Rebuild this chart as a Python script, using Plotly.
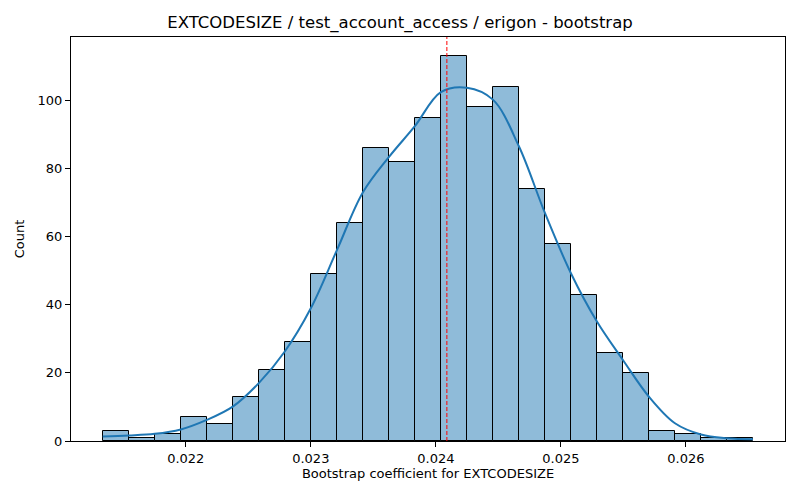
import plotly.graph_objects as go

# histogram bins (left edges derived from start + width) and counts
bin_start = 0.021336
bin_width = 0.000208
counts = [3, 1, 2, 7, 5, 13, 21, 29, 49, 64, 86, 82, 95, 113, 98, 104, 74, 58, 43, 26, 20, 3, 2, 1, 1]

# kde curve at each bin edge
kde_y = [1.3, 1.6, 2.1, 3.4, 6.2, 10.1, 17, 26.3, 39, 56, 73, 83.4, 92.5, 102.5, 103.8,
         100.3, 86.6, 67, 49.3, 35.1, 23.8, 13, 5.2, 1.9, 0.8, 0.5]

point_estimate = 0.024088
x_ticks = [0.022, 0.023, 0.024, 0.025, 0.026]
y_ticks = [0, 20, 40, 60, 80, 100]

title = "EXTCODESIZE / test_account_access / erigon - bootstrap"
xlabel = "Bootstrap coefficient for EXTCODESIZE"

edges = [bin_start + i * bin_width for i in range(len(counts) + 1)]

fig = go.Figure()

fig.add_trace(go.Bar(
    x=edges[:-1], y=counts, width=bin_width, offset=0,
    marker=dict(color="rgba(31,119,180,0.5)", line=dict(color="black", width=1)),
    showlegend=False, hoverinfo="x+y",
))

fig.add_trace(go.Scatter(
    x=edges, y=kde_y, mode="lines",
    line=dict(color="#1f77b4", width=2, shape="spline", smoothing=1),
    showlegend=False,
))

fig.add_vline(x=point_estimate, line=dict(color="red", width=1, dash="4px,2px"))

# page body adds an 8px margin, so the figure is sized 16px smaller
W, H = 784, 484
font = "DejaVu Sans"
fig.update_layout(
    width=W, height=H,
    margin=dict(l=63, r=7, t=29, b=51),
    paper_bgcolor="white", plot_bgcolor="white",
    bargap=0,
    font=dict(family=font, size=13, color="black"),
    title=dict(text=title, x=0.5, xanchor="center", y=1 - 14 / H, yanchor="middle",
               font=dict(family=font, size=16.5, color="black")),
    xaxis=dict(
        range=[0.0210824, 0.026792], tickvals=x_ticks, tickformat=".3f",
        showline=True, linecolor="black", linewidth=1, mirror=True, automargin=False,
        ticks="outside", ticklen=5, tickcolor="black", showgrid=False, zeroline=False,
        title=dict(text=xlabel, standoff=4, font=dict(size=13)),
    ),
    yaxis=dict(
        range=[0, 118.7], tickvals=y_ticks,
        showline=True, linecolor="black", linewidth=1, mirror=True, automargin=False,
        ticks="outside", ticklen=5, tickcolor="black", showgrid=False, zeroline=False,
        title=dict(text="Count", standoff=10, font=dict(size=13)),
    ),
)

fig.write_html("out.html")
